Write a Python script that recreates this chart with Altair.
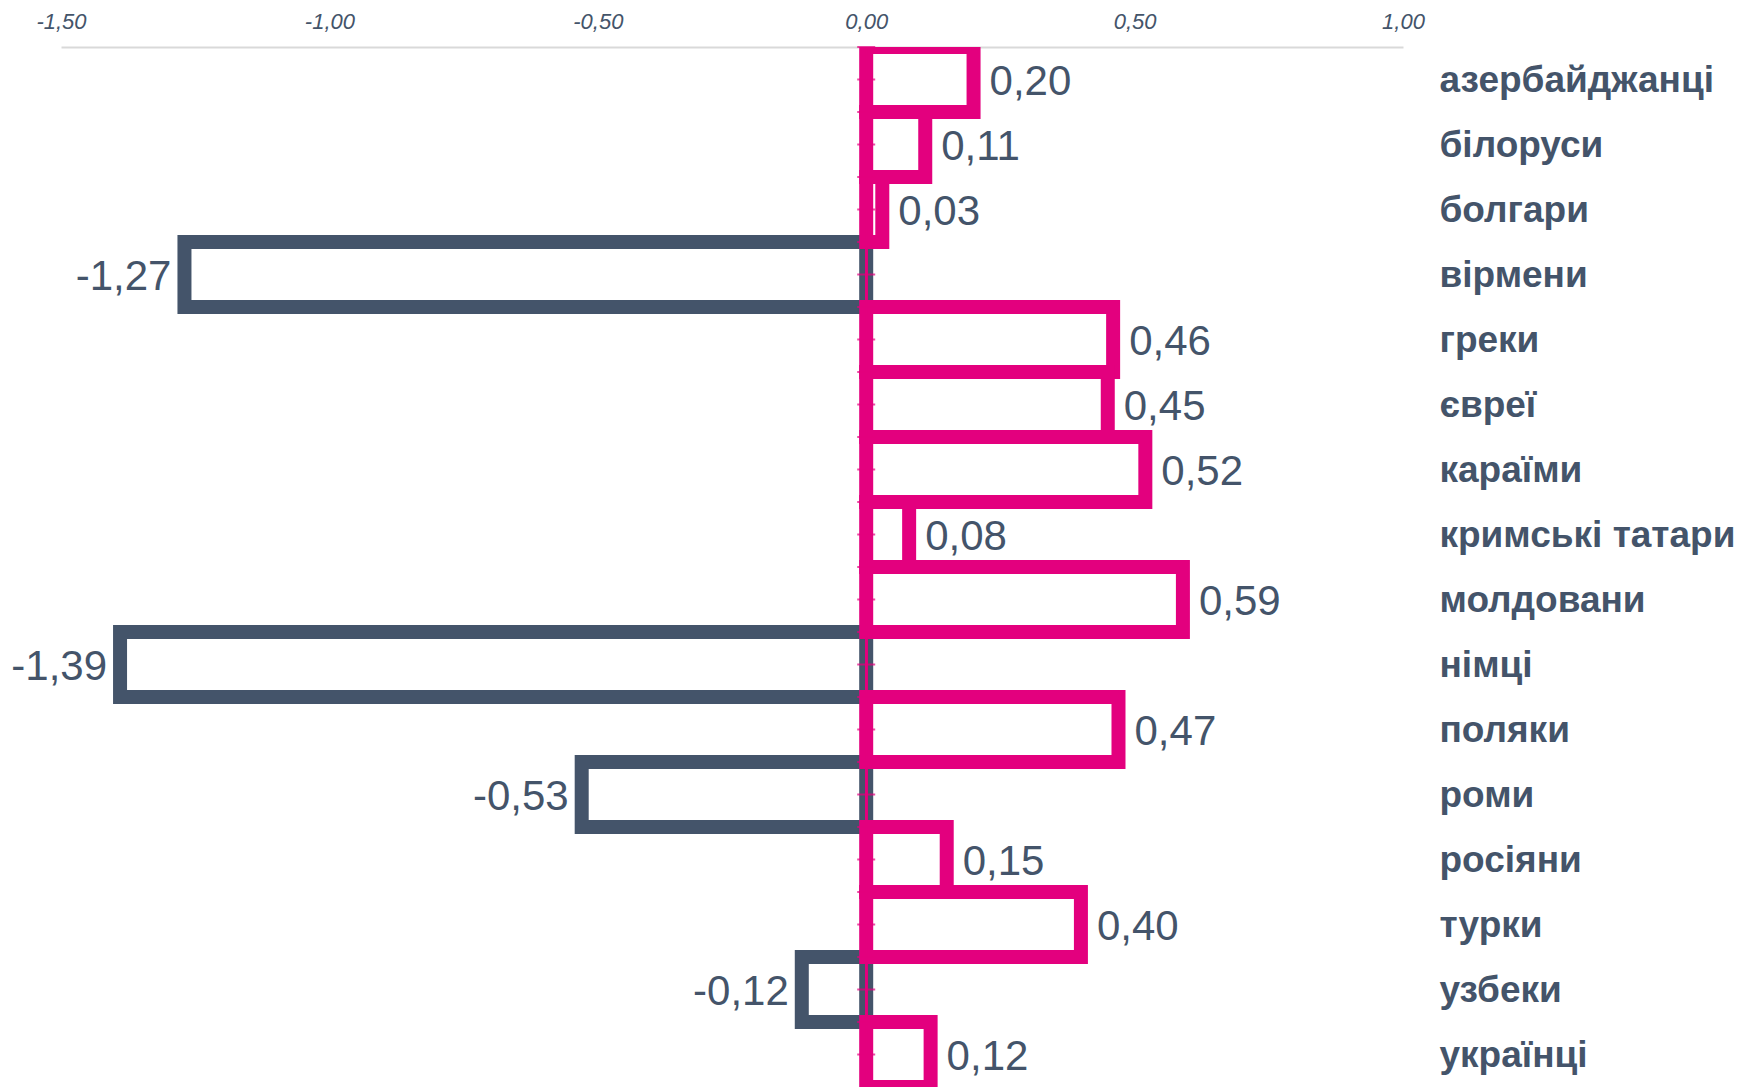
import altair as alt
import pandas as pd

categories = ["азербайджанці", "білоруси", "болгари", "вірмени", "греки", "євреї",
              "караїми", "кримські татари", "молдовани", "німці", "поляки", "роми",
              "росіяни", "турки", "узбеки", "українці"]
values = [0.20, 0.11, 0.03, -1.27, 0.46, 0.45, 0.52, 0.08, 0.59, -1.39, 0.47, -0.53,
          0.15, 0.40, -0.12, 0.12]
axis_ticks = [-1.5, -1.0, -0.5, 0.0, 0.5, 1.0]

PINK = "#E3007E"
SLATE = "#44546A"
FONT = "Liberation Sans"

df = pd.DataFrame({
    "cat": categories,
    "val": values,
    "label": [f"{v:.2f}".replace(".", ",") for v in values],
})

x_enc = alt.X(
    "val:Q",
    scale=alt.Scale(domain=[-1.5, 1.0], nice=False, zero=False),
    axis=alt.Axis(
        orient="top", values=axis_ticks, title=None, grid=False, ticks=False,
        tickSize=0, domain=True, domainColor="#D9D9D9", domainWidth=2,
        labelFont=FONT, labelFontSize=22, labelFontStyle="italic",
        labelColor=SLATE, labelPadding=14, labelFlush=False,
        labelExpr="(datum.value < 0 ? '-' : '') + replace(format(abs(datum.value), '.2f'), '.', ',')",
    ),
)
y_axis = alt.Axis(
    orient="right", title=None, ticks=False, domain=False, grid=False,
    labelFont=FONT, labelFontSize=37, labelFontWeight="bold", labelColor=SLATE,
    labelAlign="left", labelPadding=36, labelBaseline="middle", labelLimit=0,
    labelOffset=1,
)
y_scale = alt.Scale(type="band", domain=categories, paddingInner=0, paddingOuter=0)
y_enc = alt.Y("cat:N", sort=categories, scale=y_scale, axis=y_axis)

base = alt.Chart(df)

neg_bars = base.transform_filter("datum.val < 0").mark_bar(
    fill="white", stroke=SLATE, strokeWidth=14, clip=True
).encode(x=x_enc, y=y_enc)

pos_bars = base.transform_filter("datum.val >= 0").mark_bar(
    fill="white", stroke=PINK, strokeWidth=14, clip=True
).encode(x=x_enc, y=y_enc)

pos_text = base.transform_filter("datum.val >= 0").mark_text(
    align="left", baseline="middle", dx=16, dy=2, font=FONT, fontSize=42, color=SLATE
).encode(x=x_enc, y=y_enc, text="label:N")

neg_text = base.transform_filter("datum.val < 0").mark_text(
    align="right", baseline="middle", dx=-13, dy=2, font=FONT, fontSize=42, color=SLATE
).encode(x=x_enc, y=y_enc, text="label:N")

zero_rule = base.mark_rule(color=PINK, strokeWidth=2).encode(x=alt.datum(0))

center_ticks = base.mark_tick(
    orient="horizontal", size=18, thickness=2, color=PINK
).encode(x=alt.datum(0), y=y_enc)

edge_ticks = base.mark_tick(
    orient="horizontal", size=18, thickness=2, color=PINK
).encode(x=alt.datum(0),
         y=alt.Y("cat:N", sort=categories, bandPosition=0, scale=y_scale, axis=y_axis))

chart = alt.layer(
    neg_bars, pos_bars, zero_rule, center_ticks, edge_ticks, pos_text, neg_text
).properties(
    width=1342,
    height=1040,
    autosize=alt.AutoSizeParams(type="none"),
    padding={"left": 53, "top": 39, "right": 340, "bottom": 0},
).configure(background="white").configure_view(stroke=None, strokeWidth=0)

chart.save("out.html", embed_options={"renderer": "svg", "actions": False})
